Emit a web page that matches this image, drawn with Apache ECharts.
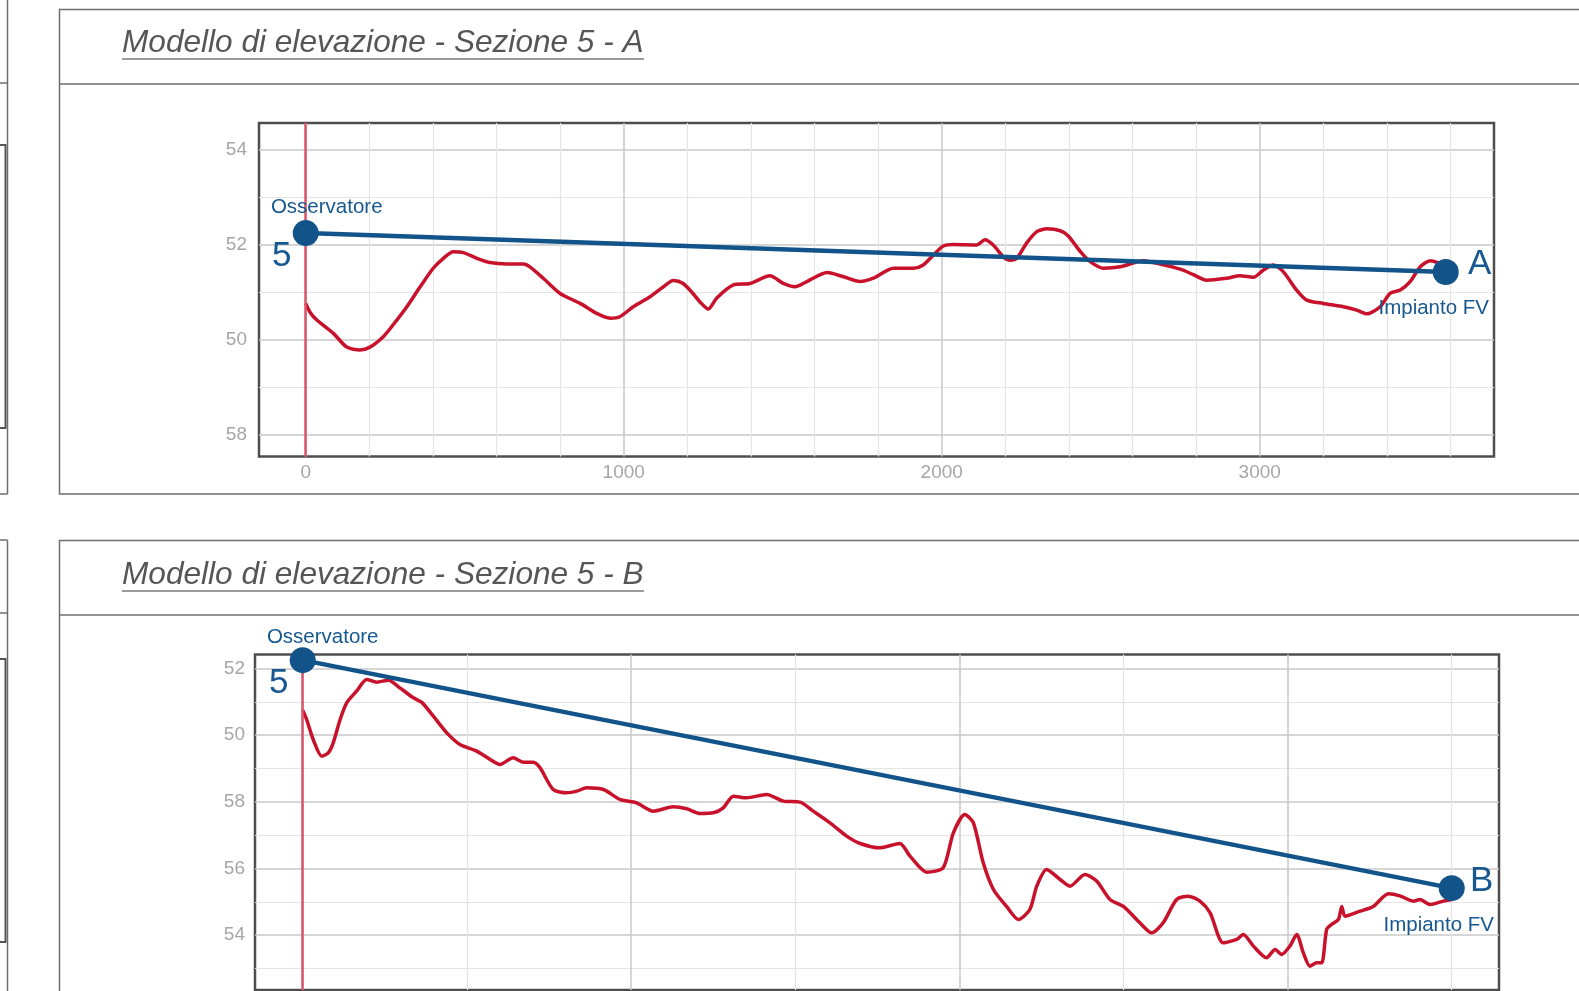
<!DOCTYPE html>
<html><head><meta charset="utf-8">
<script src="https://cdn.jsdelivr.net/npm/echarts@6/dist/echarts.min.js"></script>
<style>html,body{margin:0;padding:0;background:#fff;overflow:hidden}#c{width:1579px;height:991px}</style>
</head><body><div id="c"></div>
<script>
// ---------- titles ----------
const titleA = 'Modello di elevazione - Sezione 5 - A';
const titleB = 'Modello di elevazione - Sezione 5 - B';

// ---------- Section A : terrain profile (distance m, elevation) ----------
const distA = [0,14,35,87,129,171,202,244,275,318,360,401,433,464,496,538,580,632,685,705,747,800,863,915,957,988,1030,1083,1125,1156,1187,1215,1240,1266,1292,1345,1397,1460,1502,1539,1576,1640,1691,1743,1785,1848,1911,1942,1974,2005,2037,2110,2136,2162,2194,2215,2236,2267,2299,2331,2373,2398,2436,2467,2509,2561,2634,2687,2750,2790,2833,2896,2938,2980,3011,3043,3074,3116,3148,3200,3263,3305,3337,3379,3410,3442,3473,3505,3536,3568,3590];
const elevA = [50.77,50.58,50.42,50.14,49.85,49.79,49.85,50.07,50.32,50.70,51.12,51.51,51.72,51.86,51.84,51.72,51.63,51.60,51.60,51.54,51.30,50.98,50.77,50.56,50.46,50.49,50.70,50.91,51.12,51.25,51.19,51.00,50.80,50.65,50.88,51.16,51.19,51.35,51.19,51.12,51.23,51.42,51.33,51.23,51.30,51.51,51.51,51.58,51.79,51.98,52.01,52.00,52.11,52.00,51.75,51.68,51.72,52.04,52.28,52.34,52.30,52.19,51.86,51.65,51.51,51.54,51.67,51.60,51.49,51.38,51.26,51.30,51.35,51.32,51.47,51.58,51.44,51.05,50.84,50.77,50.70,50.63,50.55,50.70,50.98,51.05,51.23,51.54,51.67,51.61,51.55];
// line of sight A
const sightDistA = [0, 3585];
const sightElevA = [52.25, 51.43];
const endNamesA = ['Osservatore', 'Impianto FV'];
const endIdsA = ['5', 'A'];
// axes A
const xMajorA = [0, 1000, 2000, 3000];
const xMinorA = [200,400,600,800,1200,1400,1600,1800,2200,2400,2600,2800,3200,3400,3600];
const yMajorA = [48, 50, 52, 54];
const yMinorA = [49, 51, 53];
const yLabelsA = ['58', '50', '52', '54'];

// ---------- Section B : terrain profile ----------
const distB = [0,12,32,58,78,93,114,134,164,195,225,261,296,337,362,398,439,479,530,571,601,641,672,702,723,763,804,835,865,916,966,1017,1068,1129,1170,1210,1251,1281,1312,1352,1413,1464,1515,1555,1606,1657,1698,1758,1819,1850,1901,1951,1982,2017,2043,2073,2104,2144,2180,2215,2236,2266,2307,2337,2383,2419,2459,2500,2550,2586,2621,2662,2697,2733,2764,2804,2845,2865,2896,2936,2962,2982,3007,3028,3048,3068,3089,3104,3119,3134,3155,3165,3175,3221,3261,3307,3342,3383,3403,3434,3474,3500];
const elevB = [50.75,50.47,49.87,49.37,49.47,49.77,50.47,50.97,51.32,51.67,51.59,51.65,51.42,51.12,50.99,50.57,50.07,49.72,49.52,49.27,49.12,49.32,49.19,49.19,49.02,48.37,48.27,48.32,48.42,48.37,48.07,47.97,47.72,47.85,47.79,47.65,47.67,47.82,48.17,48.12,48.22,48.02,47.99,47.72,47.37,46.97,46.75,46.62,46.75,46.37,45.89,46.02,47.07,47.62,47.37,46.17,45.37,44.86,44.47,44.77,45.47,45.97,45.67,45.47,45.82,45.62,45.07,44.86,44.37,44.07,44.37,45.07,45.17,45.02,44.67,43.77,43.87,44.02,43.67,43.32,43.57,43.42,43.67,44.02,43.47,43.07,43.17,43.17,44.17,44.32,44.47,44.86,44.57,44.72,44.86,45.24,45.18,45.02,45.07,44.92,45.02,45.07];
const sightDistB = [0, 3500];
const sightElevB = [52.25, 45.41];
const endNamesB = ['Osservatore', 'Impianto FV'];
const endIdsB = ['5', 'B'];
const xMajorB = [0, 1000, 2000, 3000];
const xMinorB = [500, 1500, 2500, 3500];
const yMajorB = [44, 46, 48, 50, 52];
const yMinorB = [43, 45, 47, 49, 51];
const yLabelsB = ['54', '56', '58', '50', '52'];

// ---------- helpers ----------
const zip = (a, b) => a.map((v, i) => [v, b[i]]);
const FONT = '"Liberation Sans", Arial, sans-serif';
const BLUE = '#12538a';
const LABEL_BLUE = '#175890';
const labelStyle = {color: '#a6a6a6', fontSize: 19, fontFamily: FONT};

function majorAxis(grid, min, max, ticks, labels, margin) {
  return {
    type: 'value', gridIndex: grid, min: min, max: max,
    axisLine: {show: false},
    axisTick: {show: false, customValues: ticks},
    axisLabel: {
      show: true, customValues: ticks, margin: margin, ...labelStyle,
      formatter: v => { const i = ticks.indexOf(Math.round(v)); return i >= 0 ? (labels ? labels[i] : String(ticks[i])) : ''; }
    },
    splitLine: {show: true, lineStyle: {color: '#c9c9c9', width: 1.5}}
  };
}
function minorAxis(grid, min, max, ticks) {
  return {
    type: 'value', gridIndex: grid, min: min, max: max,
    axisLine: {show: false},
    axisTick: {show: false, customValues: ticks},
    axisLabel: {show: false, customValues: ticks},
    splitLine: {show: true, lineStyle: {color: '#e4e4e4', width: 1.2}}
  };
}
function endpointSeries(xi, yi, xs, ys, texts, offsets, size) {
  return {
    type: 'scatter', xAxisIndex: xi, yAxisIndex: yi, z: 10, silent: true,
    symbolSize: 1, itemStyle: {color: BLUE, opacity: 1},
    data: zip(xs, ys).map((p, i) => ({
      value: p,
      label: {show: true, position: 'inside', offset: offsets[i], formatter: texts[i],
              color: LABEL_BLUE, fontSize: size, fontFamily: FONT, align: 'center', verticalAlign: 'middle',
              textBorderWidth: 0}
    }))
  };
}
function terrainSeries(xi, yi, xs, ys) {
  return {
    type: 'line', xAxisIndex: xi, yAxisIndex: yi, z: 3, silent: true,
    data: zip(xs, ys), showSymbol: false, smooth: 0.25,
    lineStyle: {color: '#c8112a', width: 3.5},
    markLine: {
      silent: true, symbol: ['none', 'none'], animation: false,
      label: {show: false},
      lineStyle: {color: '#d9566a', width: 2.5, type: 'solid'},
      data: [{xAxis: 0}]
    }
  };
}
function sightSeries(xi, yi, xs, ys) {
  return {
    type: 'line', xAxisIndex: xi, yAxisIndex: yi, z: 6, silent: true,
    data: zip(xs, ys), symbol: 'circle', symbolSize: 26, showAllSymbol: true,
    itemStyle: {color: BLUE}, lineStyle: {color: BLUE, width: 4.5}
  };
}

const panelStroke = '#6e6e6e';
const option = {
  animation: false,
  backgroundColor: '#fff',
  grid: [
    {left: 259, top: 123, width: 1235, height: 333.5, show: true, borderColor: '#4d4d4d', borderWidth: 2.5, backgroundColor: 'transparent', outerBoundsMode: 'none', containLabel: false},
    {left: 255, top: 654.5, width: 1244, height: 335.5, show: true, borderColor: '#4d4d4d', borderWidth: 2.5, backgroundColor: 'transparent', outerBoundsMode: 'none', containLabel: false}
  ],
  xAxis: [
    majorAxis(0, -146.9, 3736.8, xMajorA, null, 7),
    minorAxis(0, -146.9, 3736.8, xMinorA),
    majorAxis(1, -145.3, 3644, xMajorB, null, 7),
    minorAxis(1, -145.3, 3644, xMinorB)
  ],
  yAxis: [
    majorAxis(0, 47.547, 54.568, yMajorA, yLabelsA, 12),
    minorAxis(0, 47.547, 54.568, yMinorA),
    majorAxis(1, 42.354, 52.42, yMajorB, yLabelsB, 10),
    minorAxis(1, 42.354, 52.42, yMinorB)
  ],
  series: [
    terrainSeries(0, 0, distA, elevA),
    sightSeries(0, 0, sightDistA, sightElevA),
    endpointSeries(0, 0, sightDistA, sightElevA, endNamesA, [[21, -26], [-12, 36]], 20.5),
    endpointSeries(0, 0, sightDistA, sightElevA, endIdsA, [[-24, 23], [34, -8]], 35),
    terrainSeries(2, 2, distB, elevB),
    sightSeries(2, 2, sightDistB, sightElevB),
    endpointSeries(2, 2, sightDistB, sightElevB, endNamesB, [[20, -23], [-13, 37]], 20.5),
    endpointSeries(2, 2, sightDistB, sightElevB, endIdsB, [[-24, 23], [30, -7]], 35)
  ],
  graphic: [
    // panel A
    {type: 'rect', silent: true, shape: {x: 59.5, y: 9.5, width: 1600, height: 484.5}, style: {fill: 'none', stroke: panelStroke, lineWidth: 1.5}},
    {type: 'line', silent: true, shape: {x1: 59.5, y1: 84, x2: 1600, y2: 84}, style: {stroke: panelStroke, lineWidth: 1.5}},
    {type: 'text', silent: true, x: 122, y: 43, style: {text: titleA, fontSize: 31.6, fontStyle: 'italic', fontFamily: FONT, fill: '#565656', verticalAlign: 'middle', align: 'left'}},
    {type: 'line', silent: true, shape: {x1: 122, y1: 59, x2: 644, y2: 59}, style: {stroke: '#9a9a9a', lineWidth: 2}},
    // panel B
    {type: 'rect', silent: true, shape: {x: 59.5, y: 540.5, width: 1600, height: 600}, style: {fill: 'none', stroke: panelStroke, lineWidth: 1.5}},
    {type: 'line', silent: true, shape: {x1: 59.5, y1: 615, x2: 1600, y2: 615}, style: {stroke: panelStroke, lineWidth: 1.5}},
    {type: 'text', silent: true, x: 122, y: 575, style: {text: titleB, fontSize: 31.6, fontStyle: 'italic', fontFamily: FONT, fill: '#565656', verticalAlign: 'middle', align: 'left'}},
    {type: 'line', silent: true, shape: {x1: 122, y1: 591, x2: 644, y2: 591}, style: {stroke: '#9a9a9a', lineWidth: 2}},
    // neighbouring panels cut at the left edge
    {type: 'line', silent: true, shape: {x1: 7.5, y1: 0, x2: 7.5, y2: 494}, style: {stroke: panelStroke, lineWidth: 1.5}},
    {type: 'line', silent: true, shape: {x1: 0, y1: 83, x2: 7.5, y2: 83}, style: {stroke: panelStroke, lineWidth: 1.5}},
    {type: 'line', silent: true, shape: {x1: 0, y1: 494, x2: 7.5, y2: 494}, style: {stroke: panelStroke, lineWidth: 1.5}},
    {type: 'rect', silent: true, shape: {x: -10, y: 145, width: 15.5, height: 283}, style: {fill: 'none', stroke: '#555', lineWidth: 2}},
    {type: 'line', silent: true, shape: {x1: 7.5, y1: 540, x2: 7.5, y2: 991}, style: {stroke: panelStroke, lineWidth: 1.5}},
    {type: 'line', silent: true, shape: {x1: 0, y1: 540, x2: 7.5, y2: 540}, style: {stroke: panelStroke, lineWidth: 1.5}},
    {type: 'line', silent: true, shape: {x1: 0, y1: 613, x2: 7.5, y2: 613}, style: {stroke: panelStroke, lineWidth: 1.5}},
    {type: 'rect', silent: true, shape: {x: -10, y: 659, width: 15.5, height: 283}, style: {fill: 'none', stroke: '#555', lineWidth: 2}}
  ]
};
const chart = echarts.init(document.getElementById('c'), null, {renderer: 'canvas'});
chart.setOption(option);
</script>
</body></html>
